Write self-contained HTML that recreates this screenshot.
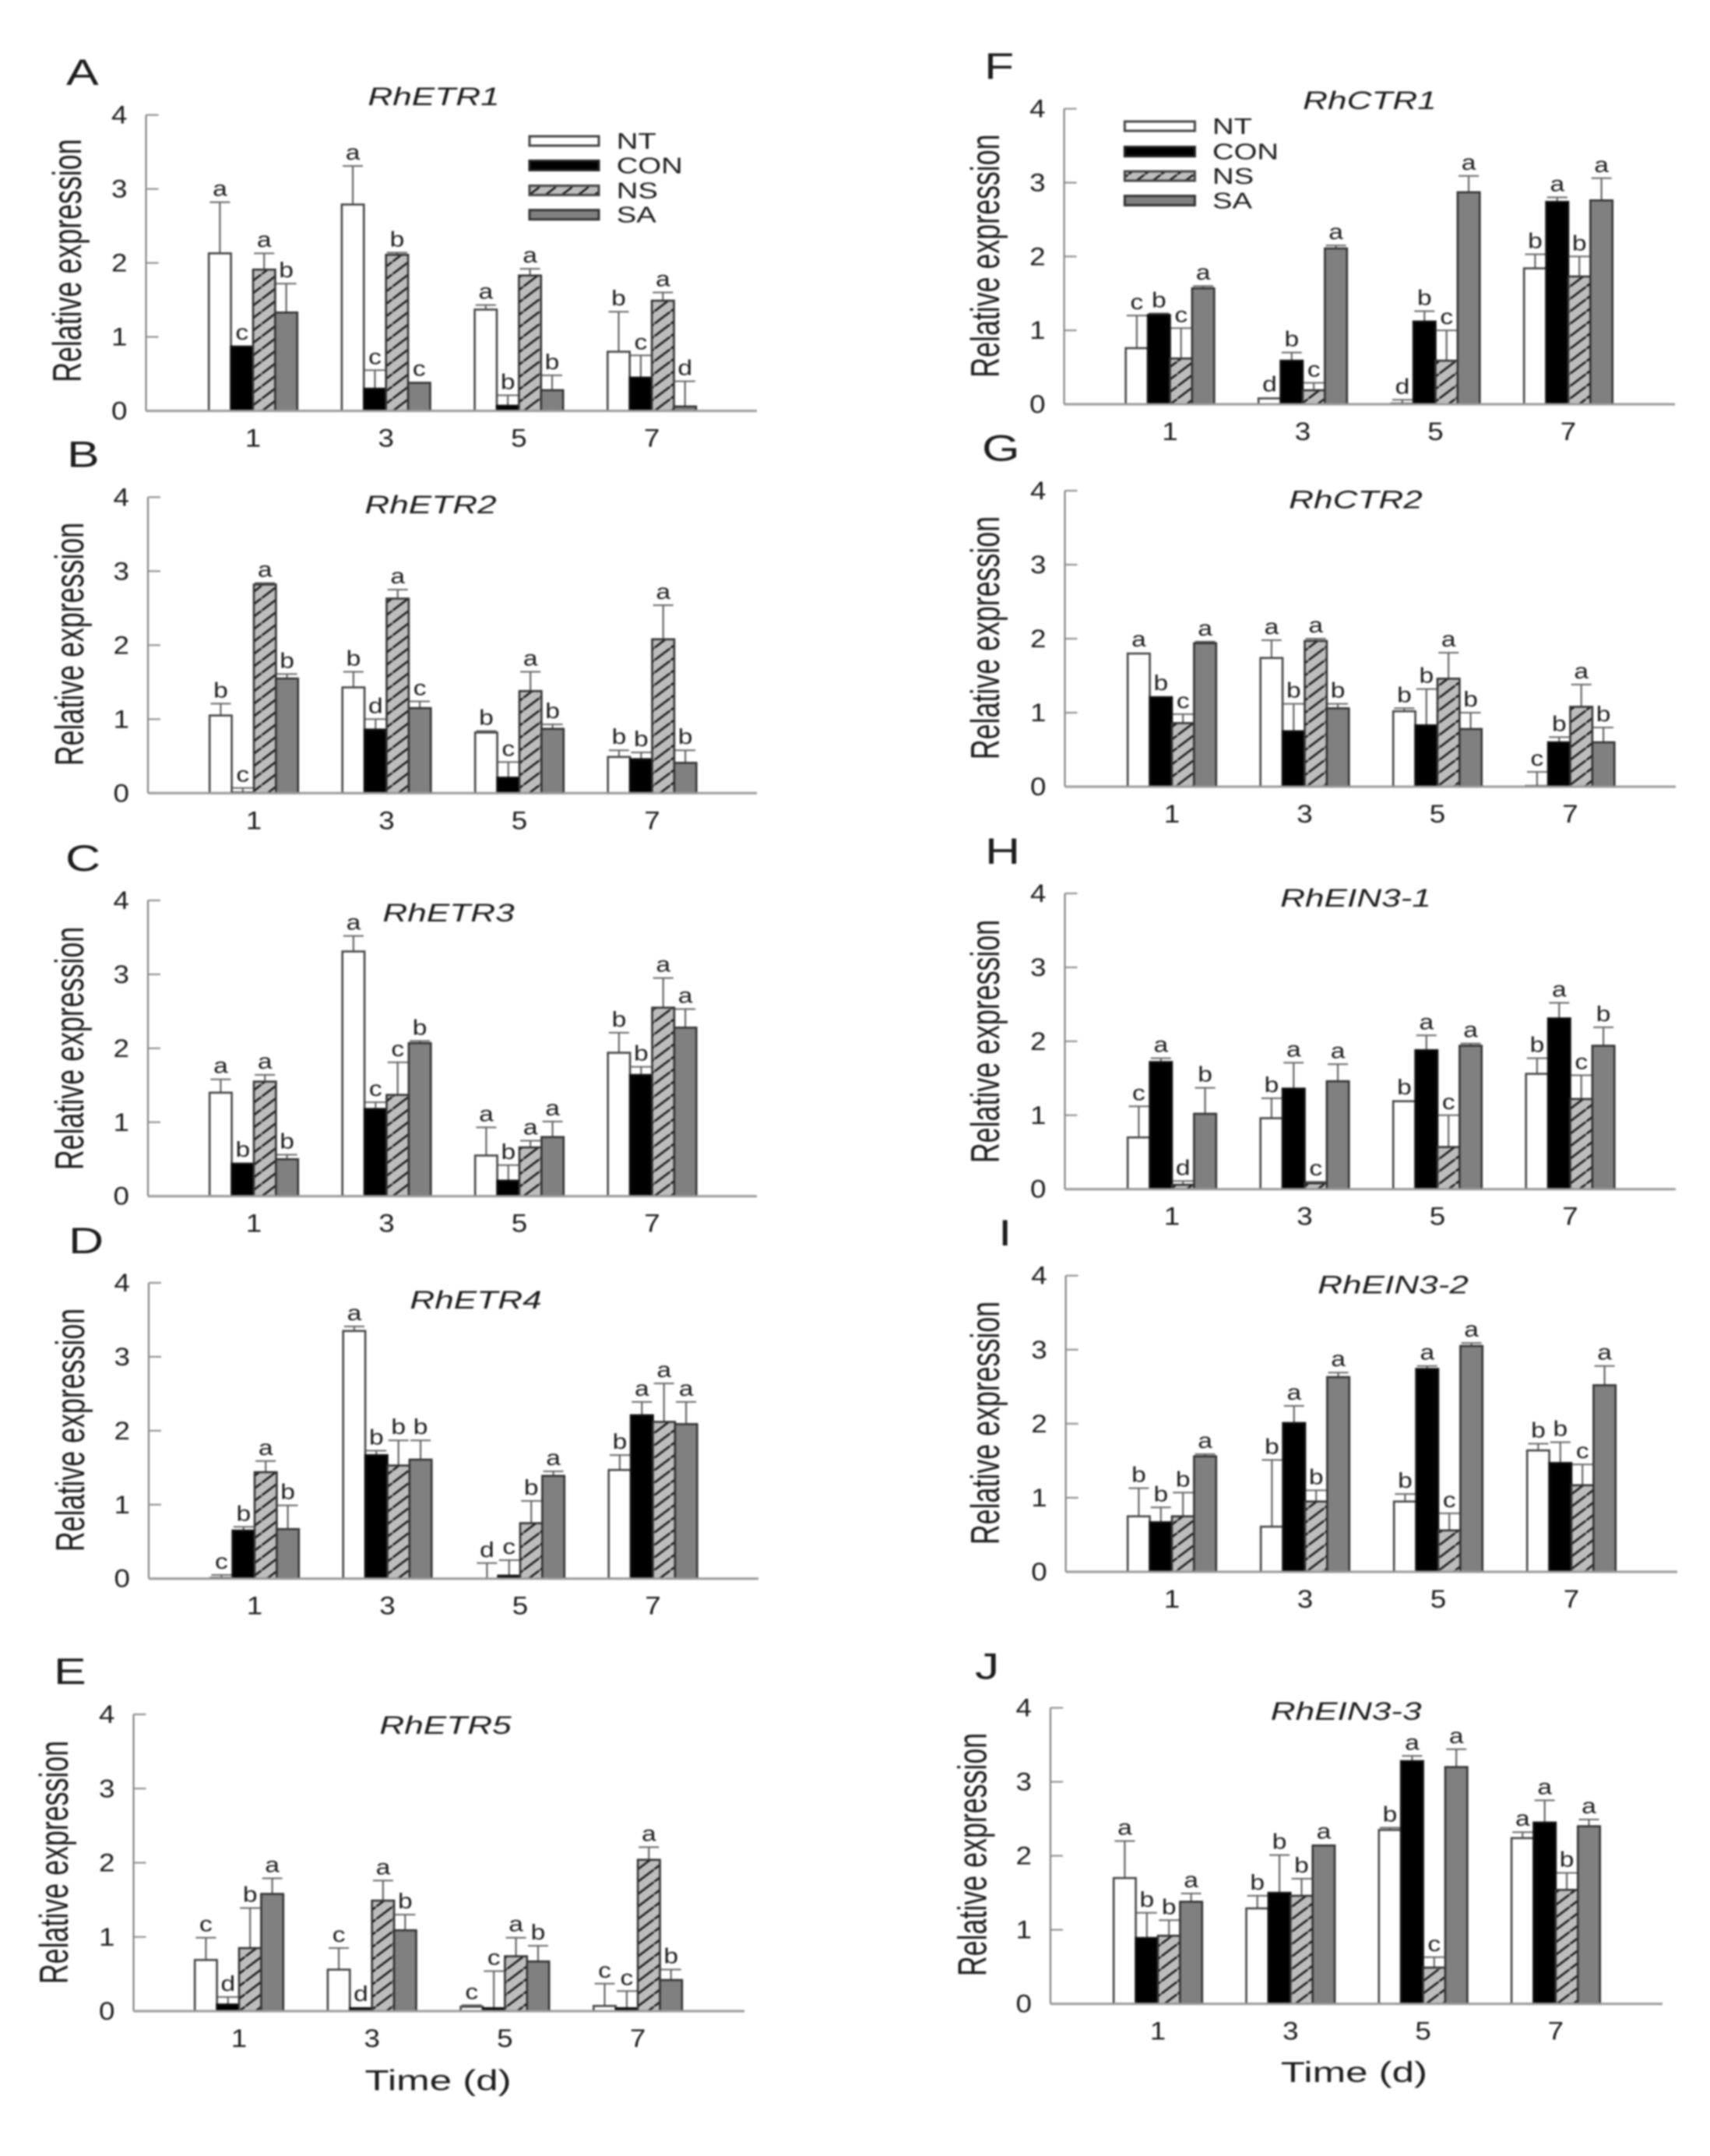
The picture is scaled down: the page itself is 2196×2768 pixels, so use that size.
<!DOCTYPE html>
<html lang="en">
<head>
<meta charset="utf-8">
<title>Relative expression of ethylene-related genes</title>
<style>
html,body{margin:0;padding:0;background:#fff;}
#figure{display:block;width:2196px;height:2768px;filter:blur(1.1px);}
text{font-family:"Liberation Sans",sans-serif;fill:#1c1c1c;}
.panel-letter{font-size:47px;}
.panel-title{font-size:32px;font-style:italic;text-anchor:middle;}
.y-title{font-size:35.8px;text-anchor:middle;}
.x-title{font-size:37px;text-anchor:middle;}
.legend-text{font-size:29px;}
.tick{font-size:32px;}
.sig{font-size:28px;text-anchor:middle;}
</style>
</head>
<body>
<svg id="figure" xmlns="http://www.w3.org/2000/svg" width="2196" height="2768" viewBox="0 0 2196 2768">
<defs>
<pattern id="hatch" patternUnits="userSpaceOnUse" width="21" height="16">
<rect width="21" height="16" fill="#bdbdbd"/>
<line x1="-5.25" y1="20" x2="26.25" y2="-4" stroke="#1a1a1a" stroke-width="2.6"/>
</pattern>
</defs>
<rect width="2196" height="2768" fill="#fff"/>

<g id="charts"></g>

<text class="panel-letter" transform="translate(85,109) scale(1.33,1)">A</text>
<text class="panel-letter" transform="translate(86,599.5) scale(1.33,1)">B</text>
<text class="panel-letter" transform="translate(84,1118) scale(1.33,1)">C</text>
<text class="panel-letter" transform="translate(88,1609) scale(1.33,1)">D</text>
<text class="panel-letter" transform="translate(69,2162) scale(1.33,1)">E</text>
<text class="panel-letter" transform="translate(1264,101) scale(1.33,1)">F</text>
<text class="panel-letter" transform="translate(1261,591.6) scale(1.33,1)">G</text>
<text class="panel-letter" transform="translate(1265,1109) scale(1.33,1)">H</text>
<text class="panel-letter" transform="translate(1282,1599) scale(1.33,1)">I</text>
<text class="panel-letter" transform="translate(1252,2155.5) scale(1.33,1)">J</text>

<text class="panel-title" transform="translate(557,135) scale(1.38,1)">RhETR1</text>
<text class="panel-title" transform="translate(553,659) scale(1.38,1)">RhETR2</text>
<text class="panel-title" transform="translate(576,1183) scale(1.38,1)">RhETR3</text>
<text class="panel-title" transform="translate(611,1680) scale(1.38,1)">RhETR4</text>
<text class="panel-title" transform="translate(572,2226) scale(1.38,1)">RhETR5</text>
<text class="panel-title" transform="translate(1759,140) scale(1.38,1)">RhCTR1</text>
<text class="panel-title" transform="translate(1741,652.6) scale(1.38,1)">RhCTR2</text>
<text class="panel-title" transform="translate(1741,1164) scale(1.38,1)">RhEIN3-1</text>
<text class="panel-title" transform="translate(1789,1660.7) scale(1.38,1)">RhEIN3-2</text>
<text class="panel-title" transform="translate(1728.6,2208) scale(1.38,1)">RhEIN3-3</text>

<text class="y-title" transform="translate(104,334.6) scale(1.45,1) rotate(-90)">Relative expression</text>
<text class="y-title" transform="translate(107,827) scale(1.45,1) rotate(-90)">Relative expression</text>
<text class="y-title" transform="translate(107,1346) scale(1.45,1) rotate(-90)">Relative expression</text>
<text class="y-title" transform="translate(108,1836) scale(1.45,1) rotate(-90)">Relative expression</text>
<text class="y-title" transform="translate(87,2391) scale(1.45,1) rotate(-90)">Relative expression</text>
<text class="y-title" transform="translate(1283,328.6) scale(1.45,1) rotate(-90)">Relative expression</text>
<text class="y-title" transform="translate(1283,819) scale(1.45,1) rotate(-90)">Relative expression</text>
<text class="y-title" transform="translate(1283,1337) scale(1.45,1) rotate(-90)">Relative expression</text>
<text class="y-title" transform="translate(1283,1827) scale(1.45,1) rotate(-90)">Relative expression</text>
<text class="y-title" transform="translate(1266.5,2381) scale(1.45,1) rotate(-90)">Relative expression</text>

<text class="x-title" transform="translate(562.6,2683.7) scale(1.38,1)">Time (d)</text>
<text class="x-title" transform="translate(1739,2673) scale(1.38,1)">Time (d)</text>

<g>
<rect x="680" y="175" width="89" height="12" fill="#fff" stroke="#444" stroke-width="3"/>
<text class="legend-text" transform="translate(791.7,191) scale(1.32,1)">NT</text>
<rect x="680" y="206.4" width="89" height="12" fill="#000" stroke="#222" stroke-width="3"/>
<text class="legend-text" transform="translate(791.7,222.4) scale(1.32,1)">CON</text>
<rect x="680" y="238.4" width="89" height="12" fill="url(#hatch)" stroke="#444" stroke-width="3"/>
<text class="legend-text" transform="translate(791.7,254.4) scale(1.32,1)">NS</text>
<rect x="680" y="269.7" width="89" height="12" fill="#808080" stroke="#333" stroke-width="3"/>
<text class="legend-text" transform="translate(791.7,285.7) scale(1.32,1)">SA</text>
</g>
<g>
<rect x="1444.4" y="156" width="90" height="12" fill="#fff" stroke="#444" stroke-width="3"/>
<text class="legend-text" transform="translate(1557,172) scale(1.32,1)">NT</text>
<rect x="1444.4" y="188.6" width="90" height="12" fill="#000" stroke="#222" stroke-width="3"/>
<text class="legend-text" transform="translate(1557,204.6) scale(1.32,1)">CON</text>
<rect x="1444.4" y="220" width="90" height="12" fill="url(#hatch)" stroke="#444" stroke-width="3"/>
<text class="legend-text" transform="translate(1557,236) scale(1.32,1)">NS</text>
<rect x="1444.4" y="251.5" width="90" height="12" fill="#808080" stroke="#333" stroke-width="3"/>
<text class="legend-text" transform="translate(1557,267.5) scale(1.32,1)">SA</text>
</g>
</svg>

<script>
// ----- data -----
const categories = ['1', '3', '5', '7'];
const seriesNames = ['NT', 'CON', 'NS', 'SA'];
const yTickLabels = [0, 1, 2, 3, 4];

// Each row is one series (NT, CON, NS, SA); each column is one day (1, 3, 5, 7).
const meansA = [[2.14, 2.80, 1.38, 0.81], [0.88, 0.31, 0.08, 0.46], [1.92, 2.12, 1.84, 1.50], [1.34, 0.39, 0.29, 0.07]];
const upperA = [[2.82, 3.31, 1.43, 1.34], [0.88, 0.55, 0.21, 0.75], [2.13, 2.14, 1.92, 1.60], [1.72, 0.39, 0.48, 0.40]];
const lettersA = [['a', 'a', 'a', 'b'], ['c', 'c', 'b', 'c'], ['a', 'b', 'a', 'a'], ['b', 'c', 'b', 'd']];

const meansB = [[1.06, 1.44, 0.83, 0.50], [0.02, 0.87, 0.22, 0.47], [2.83, 2.64, 1.39, 2.09], [1.56, 1.16, 0.88, 0.42]];
const upperB = [[1.21, 1.64, 0.84, 0.58], [0.07, 1.00, 0.42, 0.55], [2.84, 2.75, 1.64, 2.54], [1.61, 1.24, 0.93, 0.58]];
const lettersB = [['b', 'b', 'b', 'b'], ['c', 'd', 'c', 'b'], ['a', 'a', 'a', 'a'], ['b', 'c', 'b', 'b']];

const meansC = [[1.41, 3.32, 0.56, 1.95], [0.45, 1.19, 0.22, 1.65], [1.56, 1.38, 0.67, 2.56], [0.51, 2.08, 0.81, 2.29]];
const upperC = [[1.58, 3.52, 0.93, 2.21], [0.45, 1.27, 0.42, 1.75], [1.64, 1.81, 0.75, 2.95], [0.56, 2.10, 1.01, 2.53]];
const lettersC = [['a', 'a', 'a', 'b'], ['b', 'c', 'b', 'b'], ['a', 'c', 'a', 'a'], ['b', 'b', 'a', 'a']];

const meansD = [[0.02, 3.36, 0.01, 1.48], [0.66, 1.68, 0.05, 2.22], [1.45, 1.54, 0.76, 2.13], [0.68, 1.62, 1.40, 2.10]];
const upperD = [[0.05, 3.41, 0.21, 1.67], [0.70, 1.73, 0.25, 2.39], [1.59, 1.87, 1.05, 2.64], [0.99, 1.87, 1.45, 2.39]];
const lettersD = [['c', 'a', 'd', 'b'], ['b', 'b', 'c', 'a'], ['a', 'b', 'b', 'a'], ['b', 'b', 'a', 'a']];

const meansE = [[0.70, 0.57, 0.07, 0.08], [0.10, 0.05, 0.05, 0.05], [0.86, 1.50, 0.75, 2.05], [1.59, 1.10, 0.68, 0.43]];
const upperE = [[0.99, 0.85, 0.08, 0.37], [0.19, 0.05, 0.54, 0.27], [1.39, 1.76, 0.99, 2.21], [1.79, 1.30, 0.88, 0.56]];
const lettersE = [['c', 'c', 'c', 'c'], ['d', 'd', 'c', 'c'], ['b', 'a', 'a', 'a'], ['a', 'b', 'b', 'b']];

const meansF = [[0.77, 0.09, 0.02, 1.85], [1.22, 0.60, 1.13, 2.75], [0.63, 0.20, 0.60, 1.74], [1.58, 2.12, 2.88, 2.77]];
const upperF = [[1.20, 0.09, 0.06, 2.03], [1.23, 0.70, 1.26, 2.80], [1.03, 0.29, 1.00, 2.00], [1.60, 2.15, 3.09, 3.06]];
const lettersF = [['c', 'd', 'd', 'b'], ['b', 'b', 'b', 'a'], ['c', 'c', 'c', 'b'], ['a', 'a', 'a', 'a']];

const meansG = [[1.81, 1.75, 1.03, 0.02], [1.22, 0.76, 0.84, 0.61], [0.87, 1.98, 1.47, 1.09], [1.95, 1.07, 0.79, 0.61]];
const upperG = [[1.81, 1.98, 1.06, 0.20], [1.22, 1.12, 1.32, 0.67], [0.98, 2.00, 1.81, 1.38], [1.96, 1.12, 1.00, 0.80]];
const lettersG = [['a', 'a', 'b', 'c'], ['b', 'b', 'b', 'b'], ['c', 'a', 'a', 'a'], ['a', 'b', 'b', 'b']];

const meansH = [[0.71, 0.97, 1.20, 1.57], [1.73, 1.37, 1.89, 2.32], [0.07, 0.09, 0.58, 1.23], [1.03, 1.47, 1.95, 1.95]];
const upperH = [[1.12, 1.23, 1.20, 1.77], [1.77, 1.71, 2.08, 2.52], [0.11, 0.10, 1.00, 1.54], [1.37, 1.69, 1.97, 2.19]];
const lettersH = [['c', 'b', 'b', 'b'], ['a', 'a', 'a', 'a'], ['d', 'c', 'c', 'c'], ['b', 'a', 'a', 'b']];

const meansI = [[0.76, 0.62, 0.96, 1.65], [0.68, 2.02, 2.75, 1.48], [0.76, 0.96, 0.57, 1.18], [1.57, 2.64, 3.06, 2.53]];
const upperI = [[1.13, 1.51, 1.05, 1.73], [0.87, 2.24, 2.78, 1.75], [1.07, 1.10, 0.79, 1.45], [1.59, 2.69, 3.09, 2.78]];
const lettersI = [['b', 'b', 'b', 'b'], ['b', 'a', 'a', 'b'], ['b', 'b', 'c', 'c'], ['a', 'a', 'a', 'a']];

const meansJ = [[1.71, 1.30, 2.36, 2.25], [0.90, 1.51, 3.29, 2.46], [0.93, 1.47, 0.50, 1.55], [1.39, 2.15, 3.21, 2.41]];
const upperJ = [[2.20, 1.46, 2.38, 2.32], [1.23, 2.01, 3.35, 2.75], [1.13, 1.69, 0.63, 1.77], [1.49, 2.15, 3.44, 2.49]];
const lettersJ = [['a', 'b', 'b', 'a'], ['b', 'b', 'a', 'a'], ['b', 'b', 'c', 'b'], ['a', 'a', 'a', 'a']];

// ----- layout, kept apart from the data -----
const panels = [
  {id: 'a', means: meansA, upper: upperA, letters: lettersA, left: 187.5, right: 972, top: 147.6, base: 527.5, first: 325, step: 170.7},
  {id: 'b', means: meansB, upper: upperB, letters: lettersB, left: 190, right: 972, top: 638.3, base: 1018.3, first: 326, step: 170.5},
  {id: 'c', means: meansC, upper: upperC, letters: lettersC, left: 190, right: 972, top: 1156, base: 1535.7, first: 326, step: 170.5},
  {id: 'd', means: meansD, upper: upperD, letters: lettersD, left: 191, right: 974, top: 1647, base: 2026.7, first: 327, step: 170.5},
  {id: 'e', means: meansE, upper: upperE, letters: lettersE, left: 171.5, right: 956, top: 2201, base: 2582, first: 307, step: 170.7},
  {id: 'f', means: meansF, upper: upperF, letters: lettersF, left: 1366.6, right: 2151, top: 139.6, base: 519, first: 1502.5, step: 170.5},
  {id: 'g', means: meansG, upper: upperG, letters: lettersG, left: 1367.5, right: 2152, top: 630, base: 1010, first: 1505, step: 170.5},
  {id: 'h', means: meansH, upper: upperH, letters: lettersH, left: 1367.5, right: 2152, top: 1147, base: 1526.7, first: 1505, step: 170.5},
  {id: 'i', means: meansI, upper: upperI, letters: lettersI, left: 1368.7, right: 2154, top: 1637.7, base: 2018, first: 1505, step: 171},
  {id: 'j', means: meansJ, upper: upperJ, letters: lettersJ, left: 1349, right: 2135, top: 2192.6, base: 2572.6, first: 1487, step: 170.3}
];

const SVG_NS = 'http://www.w3.org/2000/svg';
const BAR_WIDTH = 28.4;
const Y_MAX = 4;
const fills = ['#fff', '#000', 'url(#hatch)', '#808080'];
const strokes = ['#444', '#111', '#333', '#333'];
const chartRoot = document.getElementById('charts');

function make(tag, parent, attrs, text) {
  const node = document.createElementNS(SVG_NS, tag);
  for (const key in attrs) node.setAttribute(key, attrs[key]);
  if (text !== undefined) node.textContent = text;
  parent.appendChild(node);
  return node;
}
function yScale(p, v) { return p.base - (v / Y_MAX) * (p.base - p.top); }
function groupCenter(p, g) { return p.first + g * p.step; }
function barLeft(p, g, s) { return groupCenter(p, g) + (s - 2) * BAR_WIDTH; }

panels.forEach(function (p) {
  const group = make('g', chartRoot, {});
  
  

  const yAxis = make('line', group, {x1: p.left, x2: p.left, y1: p.top, y2: p.base, stroke: '#777', 'stroke-width': 2});
  
  

  yTickLabels.forEach(function (t) {
    const y = yScale(p, t);
    const tick = make('line', group, {x1: p.left, x2: p.left + 16, y1: y, y2: y, stroke: '#888', 'stroke-width': 2});
    
    
    const label = make('text', group, {class: 'tick', 'text-anchor': 'end', transform: 'translate(' + (p.left - 24) + ',' + (y + 11) + ') scale(1.15,1)'}, String(t));
    
    
  });

  categories.forEach(function (c, g) {
    const label = make('text', group, {class: 'tick', 'text-anchor': 'middle', transform: 'translate(' + groupCenter(p, g) + ',' + (p.base + 46) + ') scale(1.15,1)'}, c);
    
    

    seriesNames.forEach(function (name, s) {
      const value = p.means[s][g];
      const high = p.upper[s][g];
      const x = barLeft(p, g, s);
      const cx = x + BAR_WIDTH / 2;
      const barTop = Math.min(yScale(p, value) + 1, p.base);

      if (high > value) {
        const whisker = make('line', group, {x1: cx, x2: cx, y1: yScale(p, value), y2: yScale(p, high), stroke: '#555', 'stroke-width': 2});
        
        
        const cap = make('line', group, {x1: cx - 13, x2: cx + 13, y1: yScale(p, high), y2: yScale(p, high), stroke: '#666', 'stroke-width': 2});
        
        
      }

      const bar = make('rect', group, {x: x, y: barTop, width: BAR_WIDTH, height: p.base - barTop, fill: fills[s], stroke: strokes[s], 'stroke-width': 2.6});
      
      

      const sig = make('text', group, {class: 'sig', transform: 'translate(' + cx + ',' + (yScale(p, Math.max(value, high)) - 8) + ') scale(1.2,1)'}, p.letters[s][g]);
      
      
    });
  });

  const xAxis = make('line', group, {x1: p.left, x2: p.right, y1: p.base, y2: p.base, stroke: '#999', 'stroke-width': 3});
  
  
});
</script>
</body>
</html>
